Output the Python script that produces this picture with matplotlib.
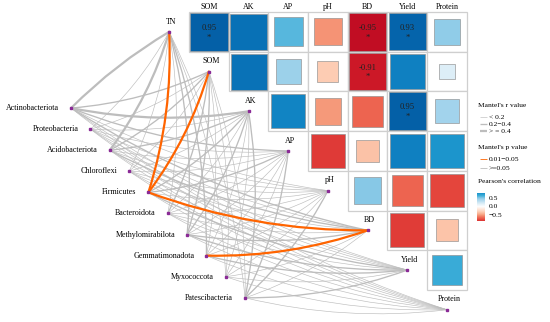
import numpy as np
import matplotlib
matplotlib.use("Agg")
import matplotlib.pyplot as plt
from matplotlib.colors import LinearSegmentedColormap, Normalize
from matplotlib.patches import Rectangle, PathPatch
from matplotlib.path import Path

# ---------------- data ----------------
env_vars = ["TN", "SOM", "AK", "AP", "pH", "BD", "Yield", "Protein"]
taxa = ["Actinobacteriota", "Proteobacteria", "Acidobacteriota", "Chloroflexi",
        "Firmicutes", "Bacteroidota", "Methylomirabilota", "Gemmatimonadota",
        "Myxococcota", "Patescibacteria"]

# Pearson correlation, rows TN..Yield, columns SOM..Protein (upper triangle)
N = np.nan
pearson_r = [
    [0.95, 0.88, 0.56, -0.50, -0.95, 0.93, 0.45],
    [N,    0.87, 0.42, -0.30, -0.91, 0.82, 0.16],
    [N,    N,    0.80, -0.48, -0.64, 0.95, 0.40],
    [N,    N,    N,    -0.78, -0.34, 0.82, 0.74],
    [N,    N,    N,    N,     0.47, -0.64, -0.74],
    [N,    N,    N,    N,     N,    -0.77, -0.33],
    [N,    N,    N,    N,     N,    N,     0.62],
]
pearson_sig = [
    [1, 0, 0, 0, 1, 1, 0],
    [0, 0, 0, 0, 1, 0, 0],
    [0, 0, 0, 0, 0, 1, 0],
    [0, 0, 0, 0, 0, 0, 0],
    [0, 0, 0, 0, 0, 0, 0],
    [0, 0, 0, 0, 0, 0, 0],
    [0, 0, 0, 0, 0, 0, 0],
]

# Mantel r (taxa x env vars)      TN    SOM   AK    AP    pH    BD    Yield Prot
mantel_r = [
    [0.45, 0.25, 0.42, 0.25, 0.10, 0.25, 0.12, 0.08],  # Actinobacteriota
    [0.10, 0.08, 0.10, 0.05, 0.06, 0.10, 0.08, 0.05],  # Proteobacteria
    [0.42, 0.25, 0.28, 0.12, 0.10, 0.25, 0.10, 0.08],  # Acidobacteriota
    [0.12, 0.10, 0.10, 0.08, 0.06, 0.10, 0.08, 0.05],  # Chloroflexi
    [0.45, 0.44, 0.30, 0.25, 0.10, 0.45, 0.28, 0.10],  # Firmicutes
    [0.10, 0.25, 0.10, 0.08, 0.06, 0.10, 0.08, 0.05],  # Bacteroidota
    [0.30, 0.28, 0.25, 0.10, 0.08, 0.28, 0.25, 0.10],  # Methylomirabilota
    [0.25, 0.10, 0.10, 0.08, 0.06, 0.44, 0.25, 0.08],  # Gemmatimonadota
    [0.10, 0.08, 0.10, 0.06, 0.05, 0.08, 0.06, 0.05],  # Myxococcota
    [0.12, 0.10, 0.28, 0.30, 0.28, 0.12, 0.28, 0.10],  # Patescibacteria
]
mantel_p = [
    [0.20, 0.30, 0.20, 0.40, 0.60, 0.30, 0.50, 0.70],
    [0.60, 0.70, 0.60, 0.80, 0.80, 0.60, 0.70, 0.90],
    [0.10, 0.30, 0.20, 0.50, 0.60, 0.30, 0.60, 0.70],
    [0.50, 0.60, 0.60, 0.70, 0.80, 0.60, 0.70, 0.90],
    [0.03, 0.04, 0.20, 0.30, 0.60, 0.02, 0.20, 0.60],
    [0.60, 0.30, 0.60, 0.70, 0.80, 0.60, 0.70, 0.90],
    [0.20, 0.20, 0.30, 0.50, 0.70, 0.20, 0.30, 0.60],
    [0.30, 0.60, 0.60, 0.70, 0.80, 0.04, 0.30, 0.70],
    [0.60, 0.70, 0.60, 0.80, 0.90, 0.70, 0.80, 0.90],
    [0.50, 0.60, 0.20, 0.20, 0.30, 0.50, 0.20, 0.60],
]

r_labels = ["< 0.2", "0.2\u22120.4", "> = 0.4"]
p_labels = ["0.01\u22120.05", ">=0.05"]
cbar_ticks = [0.5, 0.0, -0.5]

# ---------------- style ----------------
SERIF = ["Liberation Serif", "DejaVu Serif"]
plt.rcParams["font.family"] = SERIF
FS = 5.8
GRAY = "#BDBDBD"
ORANGE = "#FF6400"
NODE = "#8A2A96"
r_widths = [0.45, 0.95, 1.6]
CURV = 0.09

cmap = LinearSegmentedColormap.from_list("corr", [
    (0.00, "#B3001E"), (0.05, "#D01C29"), (0.125, "#E3423A"), (0.20, "#F07058"),
    (0.275, "#F7A483"), (0.35, "#FDCDB4"), (0.50, "#FFFFFF"), (0.58, "#DDEEF7"),
    (0.70, "#A3D4EC"), (0.75, "#7DC4E4"), (0.80, "#3FAFD9"), (0.875, "#1A93CB"),
    (0.925, "#0A78BC"), (0.975, "#0461A8"), (1.00, "#03559B")])
norm = Normalize(-1, 1)

W, H = 550, 322
fig = plt.figure(figsize=(W / 100, H / 100), dpi=100)
CELL, X0, Y0 = 39.7, 189.0, 12.0
ax = fig.add_axes([0, 0, 1, 1])
ax.set_xlim(-X0 / CELL, (W - X0) / CELL)
ax.set_ylim((H - Y0) / CELL, -Y0 / CELL)
ax.axis("off")

nv = len(env_vars)
var_pos = np.array([(i - 0.5, i + 0.5) for i in range(nv)])
t_start = np.array([-2.97, 2.42])
t_step = np.array([0.487, 0.531])
tax_pos = np.array([t_start + k * t_step for k in range(len(taxa))])

# ---------------- edges ----------------
def r_class(r):
    return 0 if r < 0.2 else (1 if r < 0.4 else 2)

edges = []
for k in range(len(taxa)):
    for i in range(nv):
        rc = r_class(mantel_r[k][i])
        sig = mantel_p[k][i] < 0.05
        edges.append((sig, rc, k, i))
edges.sort()
for sig, rc, k, i in edges:
    p0 = tax_pos[k]
    p2 = var_pos[i]
    d = p2 - p0
    sgn = -0.7 if (k == 0 and i == 0) else 1.0
    ctrl = (p0 + p2) / 2 + sgn * CURV * np.array([-d[1], d[0]])
    path = Path([p0, ctrl, p2], [Path.MOVETO, Path.CURVE3, Path.CURVE3])
    ax.add_patch(PathPatch(path, fill=False, lw=r_widths[rc],
                           edgecolor=ORANGE if sig else GRAY,
                           capstyle="round", zorder=2 + rc + (5 if sig else 0)))

# ---------------- heatmap ----------------
for i, row in enumerate(pearson_r):
    for j, r in enumerate(row):
        if np.isnan(r):
            continue
        ax.add_patch(Rectangle((j, i), 1, 1, facecolor="white",
                               edgecolor="#CFCFCF", lw=0.9, zorder=10))
        s = np.sqrt(abs(r)) * 0.97
        ax.add_patch(Rectangle((j + 0.5 - s / 2, i + 0.5 - s / 2), s, s,
                               facecolor=cmap(norm(r)), edgecolor="#8F8F8F",
                               lw=0.45, zorder=11))
        if pearson_sig[i][j]:
            ax.text(j + 0.5, i + 0.4, f"{r:.2f}", ha="center", va="center",
                    fontsize=6.2, color="#222222", zorder=12)
            ax.text(j + 0.5, i + 0.64, "*", ha="center", va="center",
                    fontsize=6.2, color="#222222", zorder=12)

for j, name in enumerate(env_vars[1:]):
    ax.text(j + 0.5, -0.13, name, ha="center", va="center", fontsize=FS)

# ---------------- nodes & labels ----------------
ax.plot(var_pos[:, 0], var_pos[:, 1], "s", ms=1.6, color=NODE, zorder=20)
ax.plot(tax_pos[:, 0], tax_pos[:, 1], "s", ms=1.6, color=NODE, zorder=20)
for i, name in enumerate(env_vars):
    ax.text(var_pos[i, 0] + 0.05, var_pos[i, 1] - 0.26, name, ha="center",
            va="center", fontsize=FS, zorder=21)
for k, name in enumerate(taxa):
    ax.text(tax_pos[k, 0] - 0.3, tax_pos[k, 1], name, ha="right", va="center",
            fontsize=FS, zorder=21)

# ---------------- legends ----------------
lg = fig.add_axes([0, 0, 1, 1], facecolor="none")
lg.set_xlim(0, W)
lg.set_ylim(H, 0)
lg.axis("off")
LFS = 5.4
lg.text(478, 105.5, "Mantel's r value", fontsize=LFS, va="center")
for n, lab in enumerate(r_labels):
    y = 117 + n * 7
    lg.plot([480, 486.5], [y, y], color=GRAY, lw=r_widths[n], solid_capstyle="butt")
    lg.text(489, y, lab, fontsize=LFS, va="center")
lg.text(478, 147, "Mantel's p value", fontsize=LFS, va="center")
for n, (lab, col) in enumerate(zip(p_labels, [ORANGE, GRAY])):
    y = 159 + n * 9
    lg.plot([480, 486.5], [y, y], color=col, lw=0.6, solid_capstyle="butt")
    lg.text(489, y, lab, fontsize=LFS, va="center")
lg.text(478, 181.5, "Pearson's correlation", fontsize=LFS, va="center")

cb_top, cb_bot, cb_lim = 192.7, 221.0, 0.8
cax = fig.add_axes([476.7 / W, 1 - cb_bot / H, 7.3 / W, (cb_bot - cb_top) / H])
grad = np.linspace(cb_lim, -cb_lim, 100).reshape(-1, 1)
cax.imshow(cmap(norm(grad)), aspect="auto", extent=[0, 1, -cb_lim, cb_lim])
cax.set_xticks([])
cax.set_yticks([])
for s in cax.spines.values():
    s.set_visible(False)
for t in cbar_ticks:
    y = cb_top + (cb_lim - t) / (2 * cb_lim) * (cb_bot - cb_top)
    lg.text(489, y, f"{t:.1f}".replace("-", "\u2212"), fontsize=LFS, va="center")

fig.savefig("out.png", dpi=100)
